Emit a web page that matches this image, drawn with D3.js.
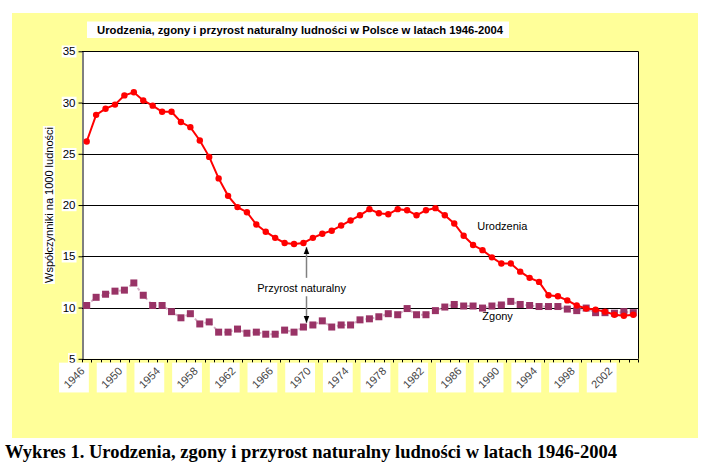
<!DOCTYPE html>
<html><head><meta charset="utf-8">
<script src="https://cdn.jsdelivr.net/npm/d3@7/dist/d3.min.js"></script>
<style>body{margin:0;background:#fff;} svg{display:block;}</style>
</head><body>
<svg id="c" width="712" height="470"></svg>
<script>
const years = d3.range(1946, 2005);
const births = [26.2,28.8,29.4,29.8,30.7,31.0,30.2,29.7,29.1,29.1,28.1,27.6,26.3,24.7,22.6,20.9,19.8,19.3,18.1,17.4,16.8,16.3,16.2,16.3,16.8,17.2,17.5,18.0,18.5,19.0,19.6,19.2,19.1,19.6,19.5,19.0,19.5,19.7,19.0,18.2,17.0,16.1,15.6,14.9,14.3,14.3,13.5,12.9,12.5,11.2,11.1,10.7,10.2,9.9,9.8,9.6,9.3,9.2,9.3];
const deaths = [10.2,11.0,11.3,11.6,11.7,12.4,11.2,10.2,10.2,9.6,9.0,9.4,8.4,8.6,7.6,7.6,7.9,7.5,7.6,7.4,7.4,7.8,7.6,8.1,8.3,8.7,8.1,8.3,8.3,8.8,8.9,9.1,9.4,9.3,9.9,9.3,9.3,9.7,10.05,10.3,10.15,10.15,9.95,10.15,10.25,10.6,10.3,10.2,10.1,10.1,10.1,9.85,9.7,9.95,9.5,9.5,9.45,9.6,9.5];
const yTicks = [5,10,15,20,25,30,35];
const xLabels = [1946,1950,1954,1958,1962,1966,1970,1974,1978,1982,1986,1990,1994,1998,2002];
const title = "Urodzenia, zgony i przyrost naturalny ludności w Polsce w latach 1946-2004";
const yTitle = "Współczynniki na 1000 ludności";
const caption = "Wykres 1. Urodzenia, zgony i przyrost naturalny ludności w latach 1946-2004";
const seriesLabels = [{text:"Urodzenia", year:1990.1, value:17.9},{text:"Zgony", year:1989.6, value:9.2}];
const arrowNote = {text:"Przyrost naturalny", year:1969.27, labelYear:1968.8, labelValue:11.85, upTip:15.9, upStart:12.9, downStart:11.1, downTip:8.5};

const svg = d3.select("#c");
const L=82, R=638, T=51.3, B=358.8;
const x = d3.scaleLinear().domain([1945.5, 2004.5]).range([L, R]);
const y = d3.scaleLinear().domain([5, 35]).range([B, T]);

svg.append("rect").attr("x",12).attr("y",13).attr("width",686).attr("height",425).attr("fill","#FFFF99");
svg.append("rect").attr("x",L).attr("y",T).attr("width",R-L).attr("height",B-T).attr("fill","#fff");

const defs = svg.append("defs");
defs.append("marker").attr("id","ah").attr("viewBox","0 0 10 10").attr("refX",10).attr("refY",5)
  .attr("markerWidth",7).attr("markerHeight",7).attr("markerUnits","userSpaceOnUse").attr("orient","auto")
  .append("path").attr("d","M0,1 L10,5 L0,9 Z").attr("fill","#000");

// title
const tg = svg.append("g");
tg.append("rect").attr("x",87).attr("y",21.5).attr("width",422).attr("height",16.5).attr("fill","#fff");
tg.append("text").attr("x",97).attr("y",34).attr("font-family","Liberation Sans, Arial, sans-serif")
  .attr("font-weight","bold").attr("font-size",11.5).attr("textLength",406).attr("lengthAdjust","spacingAndGlyphs").text(title);

// gridlines
svg.append("g").selectAll("line").data(yTicks.filter(v=>v>5)).join("line")
  .attr("x1",L).attr("x2",R).attr("y1",d=>Math.round(y(d))+0.5).attr("y2",d=>Math.round(y(d))+0.5)
  .attr("stroke","#000").attr("stroke-width",1);

// y axis
const ya = svg.append("g").attr("transform",`translate(${L+0.5},0)`)
  .call(d3.axisLeft(y).tickValues(yTicks).tickSize(4).tickSizeOuter(0).tickPadding(3));
ya.select(".domain").attr("stroke","#000");
ya.selectAll("text").attr("font-family","Liberation Sans, Arial, sans-serif").attr("font-size",11.5).attr("fill","#000");
ya.selectAll(".tick").each(function(){
  const g=d3.select(this), t=g.select("text"), bb=t.node().getBBox();
  g.insert("rect","text").attr("x",bb.x-1).attr("y",bb.y).attr("width",bb.width+2).attr("height",bb.height).attr("fill","#fff");
});

svg.append("line").attr("x1",R+0.5).attr("x2",R+0.5).attr("y1",T).attr("y2",B).attr("stroke","#000");

// x axis
const xa = svg.append("g").attr("transform",`translate(0,${Math.round(B)+0.5})`);
xa.append("line").attr("x1",L).attr("x2",R+0.5).attr("stroke","#000");
xa.selectAll("line.tk").data(d3.range(1945.5, 2005.5, 1)).join("line").attr("class","tk")
  .attr("x1",d=>Math.round(x(d))+0.5).attr("x2",d=>Math.round(x(d))+0.5).attr("y1",0).attr("y2",3).attr("stroke","#000");
const xl = svg.append("g").selectAll("g").data(xLabels).join("g")
  .attr("transform",d=>`translate(${x(d)-4},${369})`);
xl.append("text").attr("text-anchor","end").attr("dy","0.35em").attr("transform","rotate(-45)")
  .attr("font-family","Liberation Sans, Arial, sans-serif")
  .attr("font-size",11).attr("fill","#444").text(d=>d);
xl.each(function(){
  const g=d3.select(this), bb=g.node().getBBox();
  g.insert("rect","text").attr("x",bb.x-2).attr("y",bb.y-2).attr("width",bb.width+4).attr("height",bb.height+4)
    .attr("fill","#fff");
});

// y title
const yt = svg.append("g").attr("transform","translate(49,205) rotate(-90)");
const ytt = yt.append("text").attr("text-anchor","middle").attr("dy","0.35em").attr("font-family","Liberation Sans, Arial, sans-serif")
  .attr("font-size",11).text(yTitle);
const ybb = ytt.node().getBBox();
yt.insert("rect","text").attr("x",ybb.x-1).attr("y",ybb.y).attr("width",ybb.width+2).attr("height",ybb.height).attr("fill","#fff");

// deaths
const ld = d3.line().x((d,i)=>x(years[i])).y(d=>y(d));
svg.append("path").datum(deaths).attr("d",ld).attr("fill","none").attr("stroke","#D4AFC4").attr("stroke-width",2).attr("stroke-dasharray","3,3");
svg.append("g").selectAll("rect").data(deaths).join("rect")
  .attr("x",(d,i)=>x(years[i])-3.5).attr("y",d=>y(d)-3.5).attr("width",7).attr("height",7).attr("fill","#993366");

// births
svg.append("path").datum(births).attr("d",ld).attr("fill","none").attr("stroke","#FF0000").attr("stroke-width",2);
svg.append("g").selectAll("circle").data(births).join("circle")
  .attr("cx",(d,i)=>x(years[i])).attr("cy",d=>y(d)).attr("r",3.2).attr("fill","#FF0000");

svg.append("g").selectAll("text").data(seriesLabels).join("text")
  .attr("x",d=>x(d.year)).attr("y",d=>y(d.value)).attr("dy","0.35em").attr("text-anchor","middle")
  .attr("font-family","Liberation Sans, Arial, sans-serif").attr("font-size",11).text(d=>d.text);

// arrow annotation
const ax = Math.round(x(arrowNote.year))+0.5;
svg.append("line").attr("x1",ax).attr("x2",ax).attr("y1",y(arrowNote.upStart)).attr("y2",y(arrowNote.upTip))
  .attr("stroke","#808080").attr("stroke-width",1.5).attr("marker-end","url(#ah)");
svg.append("line").attr("x1",ax).attr("x2",ax).attr("y1",y(arrowNote.downStart)).attr("y2",y(arrowNote.downTip))
  .attr("stroke","#808080").attr("stroke-width",1.5).attr("marker-end","url(#ah)");
svg.append("text").attr("x",x(arrowNote.labelYear)).attr("y",y(arrowNote.labelValue)).attr("dy","0.35em").attr("text-anchor","middle")
  .attr("font-family","Liberation Sans, Arial, sans-serif").attr("font-size",11).text(arrowNote.text);

// caption
svg.append("text").attr("x",5).attr("y",458).attr("font-family","Liberation Serif, Times New Roman, serif")
  .attr("font-weight","bold").attr("font-size",18).attr("textLength",612).attr("lengthAdjust","spacingAndGlyphs").text(caption);
</script>
</body></html>
